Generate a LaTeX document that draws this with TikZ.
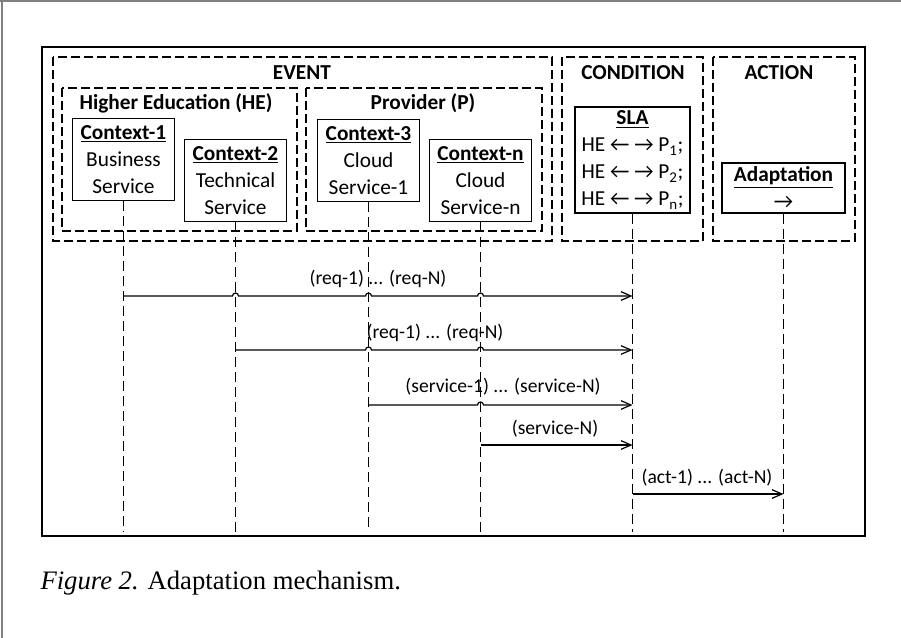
\documentclass[tikz,border=0pt]{standalone}
\usepackage{fontspec}
\setmainfont{Carlito}
\newfontfamily\capfont{Liberation Serif}
\usetikzlibrary{arrows.meta,calc}

\tikzset{every picture/.style={line width=0.75pt}}
% hop over a lifeline #1 on the level #2
\newcommand{\hop}[2]{-- ($(#1 |- #2)+(-3,0)$) arc (180:360:3)}

\begin{document}
\begin{tikzpicture}[x=0.75pt,y=0.75pt,yscale=-1,xscale=1,
  ctx/.style={draw, line width=1pt, align=center, inner sep=0pt, minimum width=76.5pt, minimum height=61.5pt, font=\fontsize{16}{20.25}\selectfont},
  head/.style={font=\fontsize{16}{20.25}\selectfont\bfseries},
  frame/.style={line width=0.9pt, dash pattern=on 6.75pt off 3pt},
  life/.style={line width=0.9pt, dash pattern=on 7.5pt off 3.75pt},
  msg/.style={line width=0.9pt, -{Straight Barb[length=7.5pt,width=6.5pt]}},
  lbl/.style={font=\fontsize{14.7}{17}\selectfont}]
\useasboundingbox (0,0) rectangle (901,638);

% page edge
\draw [gray, line width=1.2pt] (0,1) -- (901,1) ;
\draw [gray, line width=1.2pt] (2,0) -- (2,638) ;

% outer box
\draw [line width=1.1pt] (42,47) rectangle (865,536) ;

% dashed frames
\draw [frame] (53,57) rectangle (552,241) ;
\draw [frame] (62,88) rectangle (297,231) ;
\draw [frame] (306,88) rectangle (542,231) ;
\draw [frame] (562,57) rectangle (703,241) ;
\draw [frame] (713,57) rectangle (855,241) ;

% Text Node
\node [head] (event) at (302,73) {EVENT};
\node [head] (cond) at (633,73) {CONDITION};
\node [head] (act) at (779,73) {ACTION};
\node [head] (he) at (176,103) {Higher Education (HE)};
\node [head] (prov) at (423,103) {Provider (P)};

% contexts
\node [ctx] (c1) at (123.5,159.5) {\underline{\textbf{Context-1}}\\Business\\Service};
\node [ctx] (c2) at (235.5,180.5) {\underline{\textbf{Context-2}}\\Technical\\Service};
\node [ctx] (c3) at (368.5,160.5) {\underline{\textbf{Context-3}}\\Cloud\\Service-1};
\node [ctx] (cn) at (480.5,180.5) {\underline{\textbf{Context-n}}\\Cloud\\Service-n};
\node [ctx, minimum width=86.25pt, minimum height=79.5pt] (sla) at (632.5,160) {\underline{\textbf{SLA}}\\HE ← → P\textsubscript{1};\\HE ← → P\textsubscript{2};\\HE ← → P\textsubscript{n};};
\node [ctx, minimum width=92.25pt, minimum height=37.5pt] (adapt) at (783.5,188) {\underline{\textbf{Adaptation}}\\→};

% lifelines
\coordinate (bot) at (0,532);
\foreach \n in {c1,c2,c3,cn,sla,adapt}
  \draw [life] (\n.south) -- (\n.south |- bot) ;

% message levels
\coordinate (y1) at (0,296);
\coordinate (y2) at (0,350);
\coordinate (y3) at (0,405);
\coordinate (y4) at (0,445);
\coordinate (y5) at (0,494);

\draw [msg] (c1 |- y1) \hop{c2}{y1} \hop{c3}{y1} \hop{cn}{y1} -- (sla |- y1) ;
\draw [msg] (c2 |- y2) \hop{c3}{y2} \hop{cn}{y2} -- (sla |- y2) ;
\draw [msg] (c3 |- y3) \hop{cn}{y3} -- (sla |- y3) ;
\draw [msg] (cn |- y4) -- (sla |- y4) ;
\draw [msg] (sla |- y5) -- (adapt |- y5) ;

\node [lbl] (l1) at (378,279) {(req-1) ... (req-N)};
\node [lbl] (l2) at (435,333) {(req-1) ... (req-N)};
\node [lbl] (l3) at (503,387) {(service-1) ... (service-N)};
\node [lbl] (l4) at (555,429) {(service-N)};
\node [lbl] (l5) at (707,478) {(act-1) ... (act-N)};

% caption
\node [anchor=west, inner sep=0pt, font=\capfont\fontsize{20}{24}\selectfont] (cap) at (40,583) {\textit{Figure 2.} Adaptation mechanism.};

\end{tikzpicture}
\end{document}
